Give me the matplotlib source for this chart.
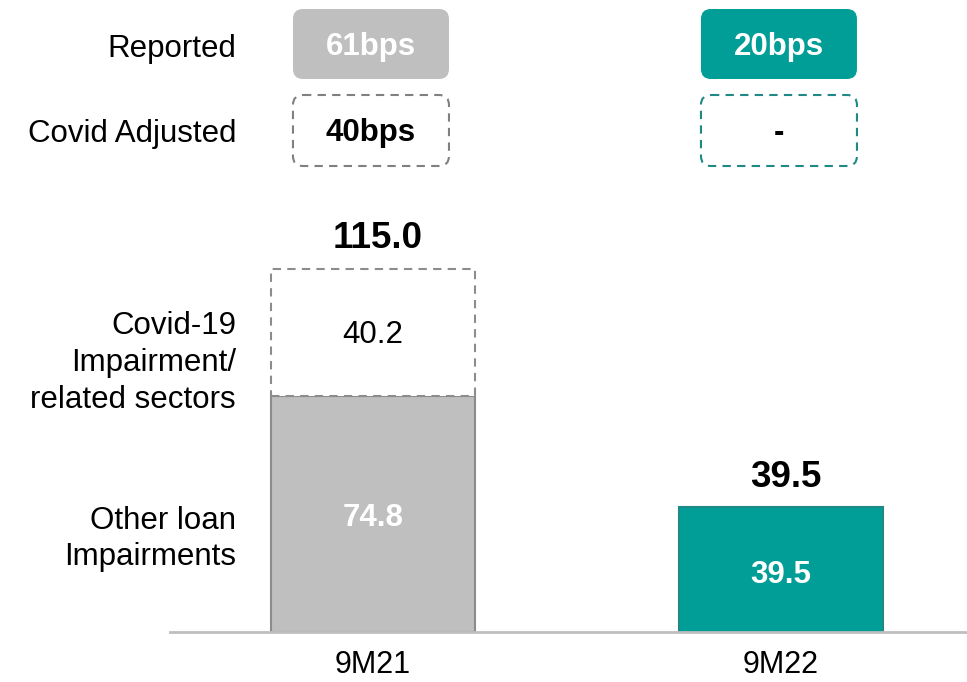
import matplotlib.pyplot as plt
from matplotlib.patches import FancyBboxPatch

plt.rcParams['font.family'] = ['Liberation Sans', 'DejaVu Sans']

# data
periods = ['9M21', '9M22']
other_loan = [74.8, 39.5]
covid_related = [40.2, 0.0]
totals = [115.0, 39.5]
reported_bps = ['61bps', '20bps']
adjusted_bps = ['40bps', '-']

gray = '#BFBFBF'
teal = '#009E96'
fills = [gray, teal]
edges = ['#8C8C8C', '#1F8A85']

fig = plt.figure(figsize=(9.67, 6.82), dpi=100)
W, H = 967, 682

# bar axes: baseline 50px from bottom, left edge at 170px
ax = fig.add_axes([170 / W, 50 / H, 797 / W, 632 / H])
ax.set_xlim(-0.4975, 1.456)
ax.set_ylim(0, 200)
ax.patch.set_visible(False)

x = range(len(periods))
ax.bar(x, other_loan, width=0.5, color=fills, edgecolor=edges, linewidth=1.5, zorder=2)
# covid part, dashed outline only
for i, v in enumerate(covid_related):
    if v > 0:
        ax.bar(i, v, bottom=other_loan[i], width=0.5, color='white',
               edgecolor='#8C8C8C', linewidth=1.5, linestyle=(0, (4, 3)), zorder=2)

# labels inside segments
for i in x:
    ax.text(i, other_loan[i] / 2 - (1.3 if i == 0 else 1.8), f'{other_loan[i]:.1f}',
            ha='center', va='center', color='white', fontsize=22.5, fontweight='bold', zorder=3)
    if covid_related[i] > 0:
        ax.text(i, other_loan[i] + covid_related[i] / 2 - 1, f'{covid_related[i]:.1f}',
                ha='center', va='center', color='black', fontsize=22.5, zorder=3)
    ax.annotate(f'{totals[i]:.1f}', (i, totals[i]), xytext=(3.5, 21.5), textcoords='offset points',
                ha='center', va='center', fontsize=26.5, fontweight='bold')

for s in ['top', 'right', 'left']:
    ax.spines[s].set_visible(False)
ax.spines['bottom'].set_color(gray)
ax.spines['bottom'].set_linewidth(2)
ax.spines['bottom'].set_zorder(4)
ax.set_yticks([])
ax.set_xticks(list(x))
ax.set_xticklabels(periods, fontsize=22)
ax.tick_params(axis='x', length=0, pad=13)

# overlay in pixel coordinates for the bps boxes and row labels
ov = fig.add_axes([0, 0, 1, 1], zorder=-1)
ov.set_xlim(0, W)
ov.set_ylim(H, 0)
ov.axis('off')

fig.canvas.draw()
bw, bh = 156, 70
for i in x:
    cx = ax.transData.transform((i, 0))[0] - 2
    ov.add_patch(FancyBboxPatch((cx - bw / 2, 9), bw, bh,
                                boxstyle='round,pad=0,rounding_size=10',
                                facecolor=fills[i], edgecolor='none'))
    ov.text(cx, 47, reported_bps[i], ha='center', va='center', color='white',
            fontsize=22.5, fontweight='bold')
    ov.add_patch(FancyBboxPatch((cx - bw / 2, 95), bw, 71,
                                boxstyle='round,pad=0,rounding_size=10',
                                facecolor='white', edgecolor=edges[i] if i else '#808080',
                                linewidth=1.5, linestyle=(0, (4, 3))))
    ov.text(cx, 133, adjusted_bps[i], ha='center', va='center', color='black',
            fontsize=22.5, fontweight='bold')

row_labels = [('Reported', 49), ('Covid Adjusted', 134),
              ('Covid-19\nImpairment/\nrelated sectors', 363),
              ('Other loan\nImpairments', 539)]
for txt, yy in row_labels:
    ov.text(236, yy, txt, ha='right', va='center', fontsize=22.5, linespacing=1.29)

fig.savefig('out.png', dpi=100)
